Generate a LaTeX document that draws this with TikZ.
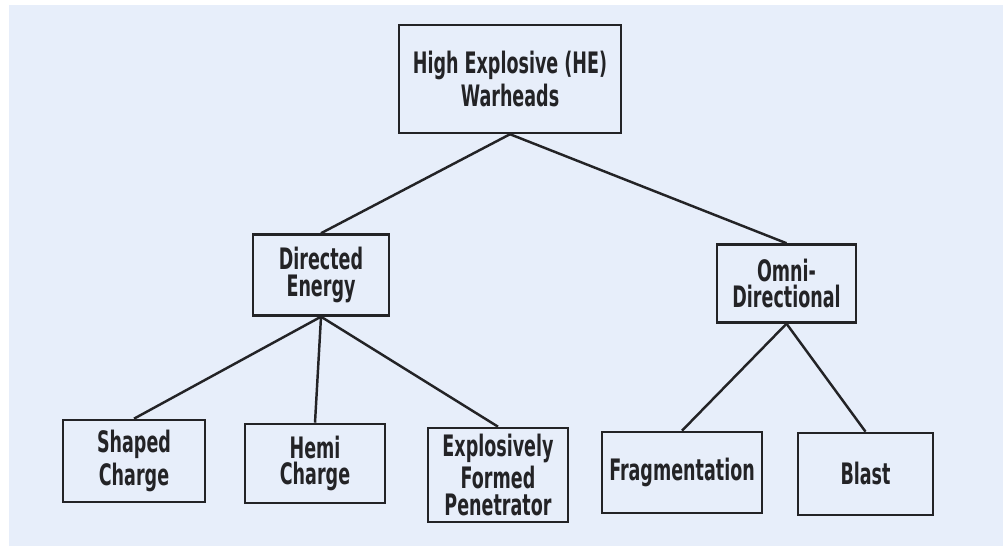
\documentclass[tikz,border=0pt]{standalone}
\usepackage{fontspec}
\setmainfont{DejaVu Sans Condensed}[FakeStretch=0.66]
\usepackage{xcolor}
\usepackage{tikz}
\usetikzlibrary{positioning}

\definecolor{paper}{RGB}{231,238,250}
\definecolor{ink}{RGB}{35,35,38}

\begin{document}
\begin{tikzpicture}[node distance=1cm,
    every node/.style={font=\bfseries\fontsize{8.4}{7.6}\selectfont, text=ink},
    box/.style={draw=ink, line width=0.7pt, inner sep=1pt, align=center, minimum width=1.4cm, minimum height=0.81cm},
    link/.style={draw=ink, line width=0.7pt},
]
\useasboundingbox (0,0) rectangle (10.03,-5.46);
\fill[paper] (0.09,-0.05) rectangle (10.03,-5.46);

\node[box, minimum width=2.22cm, minimum height=1.08cm, font=\bfseries\fontsize{8.4}{9.6}\selectfont] (he) at (5.10,-0.79) {High Explosive (HE)\\Warheads};
\node[box, below=0.99cm of he, xshift=-1.89cm, minimum width=1.36cm] (de) {Directed\\Energy};
\node[box, below=1.09cm of he, xshift=2.765cm, minimum width=1.39cm, minimum height=0.78cm] (od) {Omni-\\Directional};
\node[box, below=1.02cm of de, xshift=-1.87cm, minimum width=1.42cm, minimum height=0.82cm] (sc) {Shaped\\Charge};
\node[box, below=1.06cm of de, xshift=-0.06cm, minimum height=0.79cm] (hc) {Hemi\\Charge};
\node[box, below=1.10cm of de, xshift=1.77cm, minimum height=0.94cm] (efp) {Explosively\\Formed\\Penetrator};
\node[box, below=1.07cm of od, xshift=-1.045cm, minimum width=1.60cm] (frag) {Fragmentation};
\node[box, below=1.08cm of od, xshift=0.79cm, minimum width=1.35cm, minimum height=0.82cm] (blast) {Blast};

\draw[link] (he.south) -- (de.north);
\draw[link] (he.south) -- (od.north);
\draw[link] (de.south) -- (sc.north);
\draw[link] (de.south) -- (hc.north);
\draw[link] (de.south) -- (efp.north);
\draw[link] (od.south) -- (frag.north);
\draw[link] (od.south) -- (blast.north);
\end{tikzpicture}
\end{document}
